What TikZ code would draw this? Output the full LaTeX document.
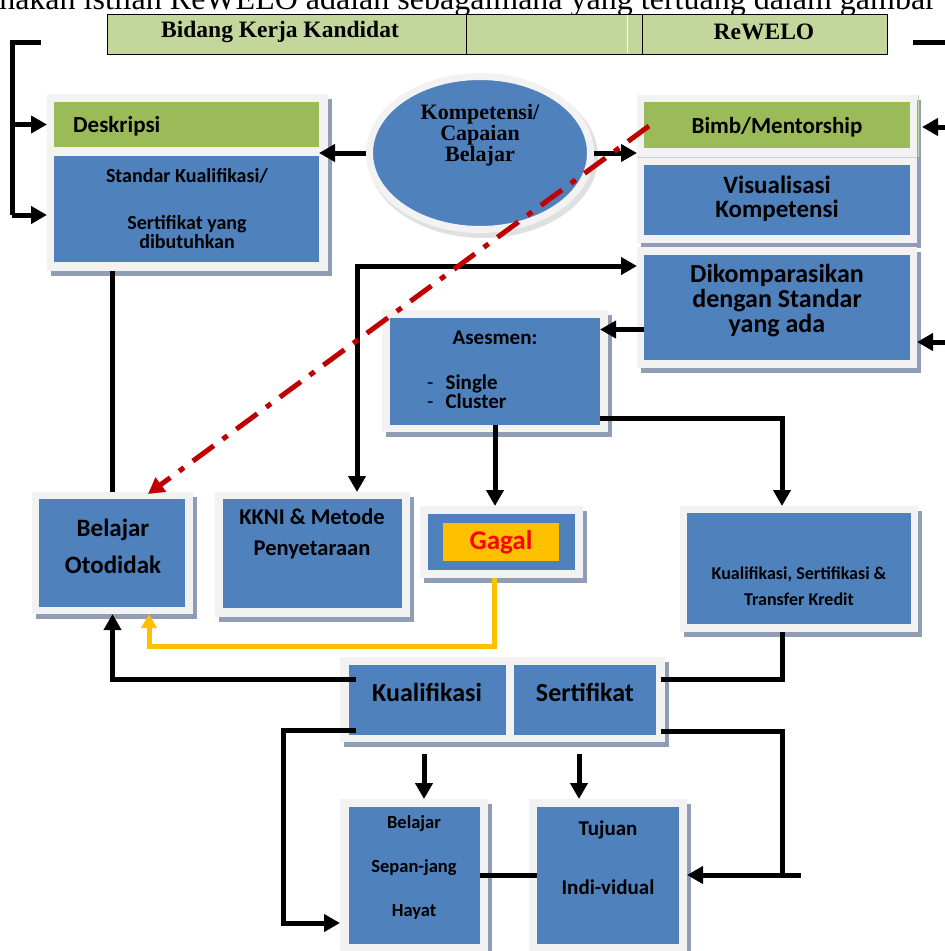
\documentclass[tikz,border=0pt]{standalone}
\usepackage{fontspec}
\usetikzlibrary{arrows.meta,shapes.geometric,calc}
\newfontfamily\carl{Carlito}
\newfontfamily\tms{Liberation Serif}
\definecolor{boxblue}{HTML}{4F81BD}
\definecolor{boxgreen}{HTML}{9BBB59}
\definecolor{hdrgreen}{HTML}{C3D69B}
\definecolor{framegray}{HTML}{F2F2F2}
\definecolor{shadowgray}{RGB}{143,158,181}
\definecolor{linkred}{HTML}{C00000}
\definecolor{failyellow}{HTML}{FFC000}
\newcommand{\fsz}[2]{\fontsize{#1pt}{#2pt}\selectfont}
% \panel{name}{style}{x1}{y1}{x2}{y2}{text}: a box spanning the given corners
\newcommand{\panel}[7]{\node[#2, minimum width={(#5-#3)*1pt}, minimum height={(#6-#4)*1pt}] (#1) at ({(#3+#5)/2},{(#4+#6)/2}) {#7};}
% \mkframe{name}{x1}{y1}{x2}{y2}: light frame with a drop shadow
\newcommand{\mkframe}[5]{\fill[shadowgray] ({#2+4},{#3+5}) rectangle ({#4+4},{#5+5});\panel{#1}{panelframe}{#2}{#3}{#4}{#5}{}}
\begin{document}
\begin{tikzpicture}[x=1pt,y=-1pt,
  panelframe/.style={rectangle, fill=framegray, inner sep=0pt, outer sep=0pt},
  bluebox/.style={rectangle, fill=boxblue, inner sep=0pt, outer sep=0pt, align=center},
  greenbox/.style={rectangle, fill=boxgreen, inner sep=0pt, outer sep=0pt, align=center},
  yellowbox/.style={rectangle, fill=failyellow, inner sep=0pt, outer sep=0pt, align=center},
  hdrcell/.style={rectangle, fill=hdrgreen, draw=black, line width=1pt, inner sep=0pt, outer sep=0pt},
  hdrtext/.style={inner sep=0pt, font={\tms\bfseries\fsz{23.5}{23.5}}},
  lbl/.style={inner sep=0pt, align=center},
  line/.style={line width=5pt, black},
  arr/.style={line, -{Triangle[length=16pt,width=17pt]}},
  arrboth/.style={line, {Triangle[length=16pt,width=17pt]}-{Triangle[length=16pt,width=17pt]}},
  yelarr/.style={line width=5pt, failyellow, -{Triangle[length=14pt,width=15pt]}},
  redlink/.style={line width=5pt, linkred, dash pattern=on 26pt off 11pt on 6pt off 11pt,
    -{Triangle[length=16pt,width=17pt]}},
]
\useasboundingbox (0,0) rectangle (945,951);
\clip (0,0) rectangle (945,951);

% running text line above the header
\node[anchor=base east, inner sep=0pt, font={\tms\fsz{32}{32}}] (runin) at (936,9)
  {nakan istilah ReWELO adalah sebagaimana yang tertuang dalam gambar};

% header row
\panel{hdr}{hdrcell}{107}{14}{887}{54}{}
\draw[white, line width=0.8pt] (627,15) -- (627,53);
\draw[black, line width=0.8pt] (466,14) -- (466,54);
\draw[black, line width=0.8pt] (642,14) -- (642,54);
\node[hdrtext] (hdra) at (280,32) {Bidang Kerja Kandidat};
\node[hdrtext] (hdrb) at (764,32) {ReWELO};

% left panel: Deskripsi / Standar
\mkframe{fdesk}{47}{94}{328}{271}
\panel{desk}{greenbox}{54}{102}{319}{147}{}
\node[lbl, anchor=west, font={\carl\bfseries\fsz{23}{23}}] (deskt) at (73,126) {Deskripsi};
\panel{std}{bluebox}{54}{156}{319}{262}{}
\node[lbl, font={\carl\bfseries\fsz{20}{19}}] (stda) at (187,176) {Standar Kualifikasi/};
\node[lbl, font={\carl\bfseries\fsz{20}{19}}] (stdb) at (187,232) {Sertifikat yang\\dibutuhkan};

% central ellipse
\fill[black!12] (483,157) ellipse [x radius=115, y radius=81];
\node[ellipse, fill=boxblue, draw=framegray, line width=7pt, minimum width=221pt,
  minimum height=153pt, inner sep=0pt] (ell) at (480,153) {};
\node[lbl, font={\tms\bfseries\fsz{22}{17}}] (ellt) at (480,135) {Kompetensi/\\Capaian\\Belajar};

% right panel: Bimb/Mentorship, Visualisasi, Dikomparasikan
\mkframe{fbimb}{637}{95}{917}{243}
\panel{bimb}{greenbox}{644}{102}{910}{148}{}
\node[lbl, font={\carl\bfseries\fsz{23}{23}}] (bimbt) at (777,127) {Bimb/Mentorship};
\draw[boxgreen!45!framegray, line width=1pt] (637,157) -- (917,157);
\draw[boxgreen!45!framegray, line width=1.5pt] (918.5,95) -- (918.5,157);
\panel{vis}{bluebox}{644}{165}{910}{235}{}
\node[lbl, font={\carl\bfseries\fsz{25}{24}}] (vist) at (777,199) {Visualisasi\\Kompetensi};
\mkframe{fkomp}{637}{247}{917}{368}
\panel{komp}{bluebox}{644}{255}{910}{360}{}
\node[lbl, font={\carl\bfseries\fsz{26}{25}}] (kompt) at (777,301) {Dikomparasikan\\dengan Standar\\yang ada};

% Asesmen
\mkframe{fases}{382}{310}{608}{432}
\panel{ases}{bluebox}{390}{318}{600}{425}{}
\node[lbl, font={\carl\bfseries\fsz{21}{19}}] (asest) at (495,338) {Asesmen:};
\node[lbl, anchor=west, align=left, font={\carl\bfseries\fsz{21}{19}}] (asesl) at (427,392)
  {{\mdseries -}\hspace{12pt}Single\\{\mdseries -}\hspace{12pt}Cluster};

% Belajar Otodidak
\mkframe{fbel}{32}{492}{193}{614}
\panel{bel}{bluebox}{39}{499}{185}{607}{}
\node[lbl, font={\carl\bfseries\fsz{25}{37}}] (belt) at (113,546) {Belajar\\Otodidak};

% KKNI
\mkframe{fkkni}{215}{492}{410}{617}
\panel{kkni}{bluebox}{223}{499}{402}{608}{}
\node[lbl, font={\carl\bfseries\fsz{22.5}{22.5}}] (kknia) at (312,517) {KKNI \& Metode};
\node[lbl, font={\carl\bfseries\fsz{22.5}{22.5}}] (kknib) at (312,550) {Penyetaraan};

% Gagal
\mkframe{fgag}{420}{506}{583}{578}
\panel{gag}{bluebox}{428}{514}{575}{570}{}
\panel{gagy}{yellowbox}{443}{523}{559}{561}{}
\node[lbl, text=red, font={\carl\bfseries\fsz{27}{27}}] (gagt) at (501,542) {Gagal};

% Kualifikasi, Sertifikasi & Transfer Kredit
\mkframe{fkst}{680}{506}{918}{632}
\panel{kst}{bluebox}{687}{513}{911}{624}{}
\node[lbl, font={\carl\bfseries\fsz{18}{26}}] (kstt) at (799,586) {Kualifikasi, Sertifikasi \&\\Transfer Kredit};

% Kualifikasi | Sertifikat
\mkframe{fks}{340}{657}{665}{742}
\panel{kual}{bluebox}{349}{665}{506}{735}{}
\panel{sert}{bluebox}{514}{665}{656}{735}{}
\node[lbl, font={\carl\bfseries\fsz{26}{26}}] (kualt) at (427,692) {Kualifikasi};
\node[lbl, font={\carl\bfseries\fsz{26}{26}}] (sertt) at (585,692) {Sertifikat};

% bottom row
\mkframe{fbsh}{340}{799}{488}{965}
\panel{bsh}{bluebox}{349}{807}{480}{944}{}
\node[lbl, font={\carl\bfseries\fsz{18.5}{18.5}}] (bsha) at (414,824) {Belajar};
\node[lbl, font={\carl\bfseries\fsz{18.5}{18.5}}] (bshb) at (414,868) {Sepan-jang};
\node[lbl, font={\carl\bfseries\fsz{18.5}{18.5}}] (bshc) at (414,912) {Hayat};
\mkframe{ftuj}{529}{799}{687}{965}
\panel{tuj}{bluebox}{537}{807}{679}{944}{}
\node[lbl, font={\carl\bfseries\fsz{21}{21}}] (tuja) at (608,830) {Tujuan};
\node[lbl, font={\carl\bfseries\fsz{21}{21}}] (tujb) at (608,887) {Indi-vidual};

% bend points and free ends of connectors
\coordinate (bl1) at (41,42);
\coordinate (bl2) at (12,215);
\coordinate (rt) at (913,42);
\coordinate (rtEnd) at (955,42);
\coordinate (ra1) at (955,127);
\coordinate (ra2) at (955,342);
\coordinate (kv) at (357,266);
\coordinate (ar) at (782,418);
\coordinate (y1) at (494,646);
\coordinate (y2) at (149,646);
\coordinate (q1) at (356,679);
\coordinate (q2) at (356,730);
\coordinate (q3) at (283,923);
\coordinate (s1) at (661,679);
\coordinate (s2) at (661,731);
\coordinate (s3) at (782,875);
\coordinate (s4) at (801,875);
\coordinate (d1) at (424,754);
\coordinate (d2) at (579,754);
\coordinate (r1) at (649,126);
\coordinate (r2) at (148,494);

% left bracket feeding the Deskripsi panel
\draw[line] (bl1) -| (bl2);
\draw[arr] (bl2) -- (bl2 -| fdesk.west);
\draw[arr] (bl2 |- desk) -- (fdesk.west |- desk);

% right-hand side inputs
\draw[line] (rt) -- (rtEnd);
\draw[arr, shorten >=5pt] (ra1) -- (ra1 -| fbimb.east);
\draw[arr] (ra2) -- (ra2 -| fkomp.east);

% from the ellipse
\draw[arr] (ell.west) -- (ell.west -| std.east);
\draw[arr] (ell.east) -- (ell.east -| fbimb.west);

% Deskripsi down to Belajar Otodidak
\draw[line] (fdesk.south -| fbel.north) -- (fbel.north);

% Dikomparasikan / KKNI
\draw[arrboth] (kv -| fkomp.west) -- (kv) -- (kv |- fkkni.north);
\draw[arr] ([yshift=-22pt]komp.west) -- ([yshift=-22pt]komp.west -| ases.east);

% out of Asesmen
\draw[arr] (ases.south) -- (ases.south |- fgag.north);
\draw[arr] (ases.east |- ar) -- (ar) -- (ar |- fkst.north);

% Gagal back to Belajar Otodidak
\draw[yelarr] (fgag.south -| y1) -- (y1) -- (y2) -- (y2 |- fbel.south);

% Kualifikasi | Sertifikat links
\draw[arr] (q1) -| (fbel.south);
\draw[arr] (q2) -| (q3) -- (q3 -| fbsh.west);
\draw[line] (ar |- fkst.south) |- (s1);
\draw[line] (s2) -| (s3);
\draw[arr] (s4) -- (s4 -| ftuj.east);
\draw[arr] (d1) -- (d1 |- fbsh.north);
\draw[arr] (d2) -- (d2 |- ftuj.north);
\draw[line] (bsh.east |- s3) -- (tuj.west |- s3);

% mentorship link back to self-study
\draw[redlink] (r1) -- (r2);
\end{tikzpicture}
\end{document}
